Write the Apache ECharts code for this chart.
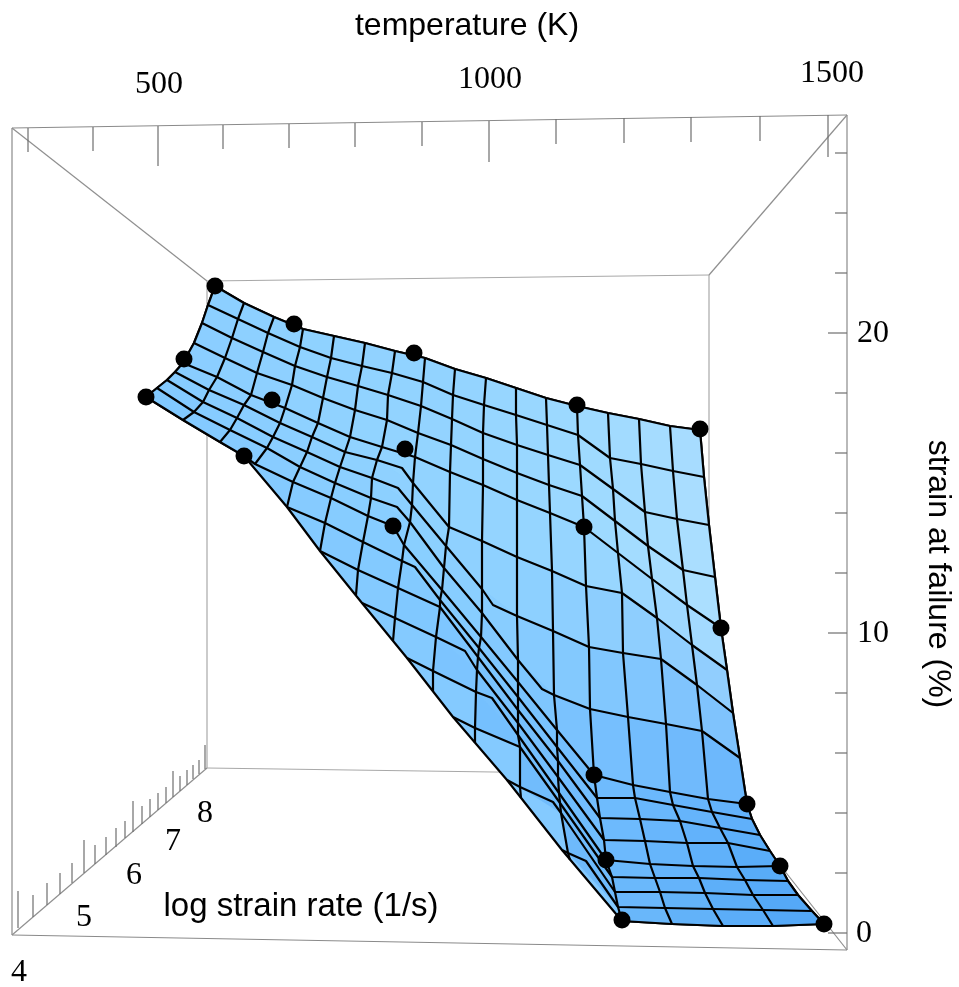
<!DOCTYPE html>
<html><head><meta charset="utf-8">
<style>html,body{margin:0;padding:0;background:#fff}#c{width:959px;height:987px}</style>
<script src="https://cdn.jsdelivr.net/npm/echarts@6/dist/echarts.min.js"></script>
</head><body><div id="c"></div>
<script>
// Projected picture-plane readings of the plotted surface: [gridColumn, x, y]; gridColumn -1 = crease or edge vertex.
const N = -1;
const rate800 = [[0,215,286],[1,244,303],[2,274,317],[3,303,329],[4,334,336],[5,365,343],[6,395,351],[7,425,358],[8,455,369],[9,486,378],[10,516,388],[11,546,398],[12,577,406],[13,608,413],[14,639,419],[15,670,426],[16,700,430]];
const rate775 = [[0,208,305],[1,238,319],[2,268,333],[3,300,347],[4,331,358],[5,362,366],[6,392,373],[7,423,382],[8,453,395],[9,484,405],[10,516,415],[11,547,425],[12,578,435],[13,610,458],[14,641,464],[15,673,471],[16,704,477]];
const rate750 = [[0,202,323],[1,232,338],[2,263,352],[3,295,366],[4,327,377],[5,358,386],[6,388,395],[7,421,406],[8,452,419],[9,483,433],[10,517,445],[11,548,455],[12,580,465],[13,613,489],[14,645,512],[15,677,519],[16,709,525]];
const rate725 = [[0,194,343],[1,225,358],[2,257,373],[3,292,385],[4,323,398],[5,355,410],[6,387,420],[7,418,433],[8,451,445],[9,483,459],[10,517,473],[11,549,485],[12,582,496],[13,615,521],[14,648,546],[15,683,570],[16,715,577]];
const rate700 = [[0,183,363],[1,217,377],[2,251,395],[3,285,408],[4,318,423],[5,350,437],[6,382,447],[7,415,457],[8,450,472],[9,483,485],[10,517,500],[11,550,513],[12,584,527],[13,618,553],[14,652,579],[15,687,605],[16,721,628]];
const rate675 = [[0,175,372],[1,209,390],[2,244,405],[3,280,423],[4,312,437],[5,345,452],[6,377,460],[N,402,468],[7,413,483],[8,449,527],[9,482,541],[10,517,557],[11,552,571],[12,586,586],[13,622,593],[14,657,618],[15,692,645],[16,727,670]];
const rate650 = [[0,167,380],[1,203,402],[2,237,418],[3,273,437],[4,307,452],[5,340,467],[6,372,478],[N,398,488],[7,412,505],[8,446,546],[9,482,589],[N,493,605],[10,517,616],[11,553,631],[12,589,647],[13,623,653],[14,661,659],[15,697,685],[16,733,713]];
const rate625 = [[0,157,388],[1,194,412],[2,230,430],[3,267,448],[4,300,467],[5,335,483],[6,371,498],[N,397,507],[7,410,522],[8,444,568],[9,482,613],[10,518,660],[N,542,689],[11,554,695],[12,590,709],[13,628,717],[14,666,724],[15,702,731],[16,740,758]];
const rate600 = [[0,146,397],[1,183,420],[2,220,442],[N,244,456],[3,255,464],[4,293,482],[5,331,498],[6,368,516],[N,393,526],[7,404,545],[8,442,590],[9,481,637],[10,518,682],[11,557,730],[12,594,775],[13,633,785],[14,670,792],[15,708,799],[16,747,804]];
const rate575 = [[4,287,507],[5,325,523],[6,363,542],[7,402,561],[N,415,567],[8,440,600],[9,479,648],[10,518,697],[11,557,747],[12,597,798],[13,635,798],[14,673,805],[15,712,812],[16,752,819]];
const rate550 = [[5,320,551],[6,358,570],[7,398,588],[8,440,607],[9,478,657],[10,518,710],[11,558,761],[12,600,818],[13,640,819],[14,680,821],[15,720,828],[16,760,835]];
const rate525 = [[N,362,603],[7,395,618],[8,436,637],[N,465,651],[9,477,670],[10,518,723],[11,558,777],[12,604,840],[13,645,841],[14,687,843],[15,728,843],[16,770,851]];
const rate500 = [[N,407,658],[8,433,671],[9,476,692],[N,492,698],[10,518,735],[11,559,793],[12,606,860],[13,650,864],[14,693,866],[15,737,867],[16,780,866]];
const rate475 = [[N,453,717],[9,475,728],[10,520,747],[11,560,803],[12,612,877],[13,655,878],[14,699,878],[15,745,880],[16,788,881]];
const rate450 = [[N,507,780],[10,520,787],[N,553,802],[11,561,813],[12,615,892],[13,660,892],[14,705,893],[15,753,895],[16,798,895]];
const rate425 = [[N,562,850],[11,568,853],[N,586,861],[12,618,907],[13,665,908],[14,713,909],[15,763,910],[16,812,911]];
const rate400 = [[12,622,921],[13,672,924],[14,723,926],[15,773,926],[16,824,924]];
const rateLines = [rate800,rate775,rate750,rate725,rate700,rate675,rate650,rate625,rate600,rate575,rate550,rate525,rate500,rate475,rate450,rate425,rate400];
// where temperature lines stop on the lower-left edge of the surface
const columnEnds = {6:[356,595],7:[393,641],8:[433,691],9:[475,743],10:[521,798],11:[570,860]};

// measured data points
const dotX = [215,294,414,577,700,184,272,405,584,721,146,244,393,594,747,606,780,622,824];
const dotY = [286,324,353,405,429,359,400,449,527,628,397,456,526,775,804,860,866,920,924];

// box edges
const boxOuter = [[12,128,847,115],[847,115,847,950],[847,950,12,935],[12,935,12,128]];
const boxInner = [[207,281,709,275],[709,275,709,775],[709,775,207,768],[207,768,207,281]];
const boxDepth = [[12,128,207,281],[847,115,709,275],[847,950,709,775],[12,935,207,768]];

// tick marks
const tempTicks = [[28,128,152],[93,127,151],[158,126,166],[223,125,149],[289,124,148],[355,123,147],[422,122,146],[489,121,162],[556,119,144],[624,118,143],[691,117,142],[760,116,141],[828,115,157]];
const strainTicks = [[153,835],[213,835],[273,835],[333,828],[393,835],[453,835],[513,835],[573,835],[633,828],[693,835],[753,835],[813,835],[873,835],[933,828]];
const rateTicks = [[18,928,891],[33,917,895],[47,905,883],[60,894,873],[72,883,863],[84,873,840],[95,864,845],[106,855,837],[116,847,828],[125,838,821],[133,832,801],[142,824,806],[150,817,799],[158,810,793],[166,803,787],[173,797,771],[180,791,776],[187,785,770],[193,779,765],[199,774,760],[205,769,745]];

// tick labels
const tempLabels = [[159,85,'500'],[490,80,'1000'],[832,74,'1500']];
const strainLabels = [[873,334,'20'],[873,634,'10'],[864,934,'0']];
const rateLabels = [[19,973,'4'],[84,918,'5'],[134,876,'6'],[173,842,'7'],[205,814,'8']];

// surface shade at rate rows 8,7,6,5,4 and every fourth temperature column
const shadeRows = [
 ['#8ccfff','#90d2ff','#92d3ff','#9edaff','#a8dcff'],
 ['#8acdff','#90d2ff','#94d4ff','#9cd9ff','#aee0ff'],
 ['#7fc8ff','#88ccff','#88ceff','#72bdfe','#62b1fb'],
 ['#74bfff','#78c2ff','#7cc4ff','#6ebbfd','#56aaf8'],
 ['#6cb9fa','#6cb9fa','#6cb9fa','#6db9fa','#4fa5f6']];

const rgb = h => [1,3,5].map(i => parseInt(h.substr(i,2),16));
function shadeAt(r,c){
  const a=r/4,b=c/4,i=Math.min(3,Math.floor(a)),j=Math.min(3,Math.floor(b)),u=a-i,v=b-j;
  const p=rgb(shadeRows[i][j]),q=rgb(shadeRows[i][j+1]),s=rgb(shadeRows[i+1][j]),t=rgb(shadeRows[i+1][j+1]);
  return 'rgb('+p.map((_,k)=>Math.round((p[k]*(1-v)+q[k]*v)*(1-u)+(s[k]*(1-v)+t[k]*v)*u)).join(',')+')';
}
const node = rateLines.map(line => { const m={}; line.forEach(p=>{ if(p[0]>=0) m[p[0]]=[p[1],p[2]]; }); return m; });

// temperature lines
const tempLines = [];
for(let c=0;c<=16;c++){
  const pts=[];
  node.forEach(m=>{ if(m[c]) pts.push(m[c]); });
  if(columnEnds[c]) pts.push(columnEnds[c]);
  tempLines.push(pts);
}
// cell fills
const cells=[], cellColors=[];
for(let r=0;r<16;r++) for(let c=0;c<16;c++){
  const a=node[r][c],b=node[r][c+1],d=node[r+1][c+1],e=node[r+1][c];
  if(a&&b&&d&&e){ cells.push([a,b,d,e].flat()); cellColors.push(shadeAt(r+.5,c+.5)); }
}
// outline of the surface
const outline = [];
rate800.forEach(p=>outline.push([p[1],p[2]]));
tempLines[16].slice(1).forEach(p=>outline.push(p));
rate400.slice().reverse().forEach(p=>outline.push([p[1],p[2]]));
[rate425,rate450,rate475,rate500,rate525,rate550,rate575].forEach(l=>outline.push([l[0][1],l[0][2]]));
rate600.slice(0,4).reverse().forEach(p=>outline.push([p[1],p[2]]));
tempLines[0].slice(0,8).reverse().forEach(p=>outline.push(p));

function segments(segs,color,z){
  return {type:'custom',coordinateSystem:'cartesian2d',silent:true,clip:false,z,
    data:segs,encode:{x:[0,2],y:[1,3]},
    renderItem(p,api){
      const a=api.coord([api.value(0),api.value(1)]),b=api.coord([api.value(2),api.value(3)]);
      return {type:'line',shape:{x1:a[0],y1:a[1],x2:b[0],y2:b[1]},style:{stroke:color,lineWidth:1.2,fill:null}};
    }};
}
function labels(items,font,size,rotate){
  return {type:'scatter',silent:true,symbolSize:0,z:20,itemStyle:{opacity:1},
    data:items.map(t=>({value:[t[0],t[1]],text:t[2]})),
    label:{show:true,position:'inside',rotate:rotate||0,formatter:p=>p.data.text,fontFamily:font,fontSize:size,color:'#000',opacity:1}};
}
const series=[
  segments(boxOuter,'#8a8a8a',1),
  segments(boxInner,'#a8a8a8',1),
  segments(boxDepth,'#8f8f8f',1),
  segments(tempTicks.map(t=>[t[0],t[1],t[0],t[2]]),'#6e6e6e',1),
  segments(strainTicks.map(t=>[847,t[0],t[1],t[0]]),'#6e6e6e',1),
  segments(rateTicks.map(t=>[t[0],t[1],t[0],t[2]]),'#6e6e6e',1),
  {type:'custom',coordinateSystem:'cartesian2d',silent:true,clip:false,z:5,data:[outline.flat()],
   renderItem(p,api){
     const pts=outline.map(q=>api.coord(q));
     return {type:'polygon',shape:{points:pts},style:{fill:'#84caff',stroke:'#000',lineWidth:2.2,lineJoin:'round'}};
   }},
  {type:'custom',coordinateSystem:'cartesian2d',silent:true,clip:false,z:6,data:cells,
   renderItem(p,api){
     const pts=[0,2,4,6].map(i=>api.coord([api.value(i),api.value(i+1)]));
     const col=cellColors[p.dataIndex];
     return {type:'polygon',shape:{points:pts},style:{fill:col,stroke:col,lineWidth:.6}};
   }}
];
const meshLine = pts => ({type:'line',silent:true,z:8,symbol:'none',clip:false,data:pts,lineStyle:{color:'#000',width:2.2,opacity:1,join:'round'}});
rateLines.forEach(l=>series.push(meshLine(l.map(p=>[p[1],p[2]]))));
tempLines.forEach(l=>series.push(meshLine(l)));
series.push({type:'scatter',silent:true,z:10,symbol:'circle',symbolSize:17,clip:false,data:dotX.map((x,i)=>[x,dotY[i]]),itemStyle:{color:'#000',opacity:1}});
const serif='"Liberation Serif"', sans='"Liberation Sans"';
series.push(labels(tempLabels,serif,32),labels(strainLabels,serif,32),labels(rateLabels,serif,32));
series.push(labels([[467,26,'temperature (K)']],sans,32));
series.push(labels([[301,907,'log strain rate (1/s)']],sans,33));
series.push(labels([[938,574,'strain at failure (%)']],sans,32,-90));

const chart=echarts.init(document.getElementById('c'),null,{renderer:'canvas'});
chart.setOption({animation:false,backgroundColor:'#fff',
  grid:{left:0,right:0,top:0,bottom:0},
  xAxis:{type:'value',min:0,max:959,show:false},
  yAxis:{type:'value',min:0,max:987,inverse:true,show:false},
  tooltip:{show:false},legend:{show:false},
  series});
</script></body></html>
